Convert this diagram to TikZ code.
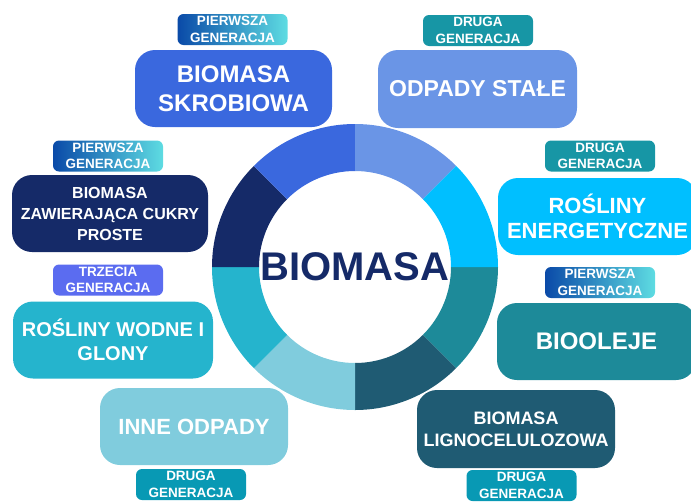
\documentclass[tikz,border=0pt]{standalone}
\usepackage{fontspec}
\setmainfont{Liberation Sans}
\usetikzlibrary{calc}

\definecolor{skrob}{HTML}{3A68DE}
\definecolor{odpady}{HTML}{6A95E6}
\definecolor{energ}{HTML}{00BFFF}
\definecolor{bioolej}{HTML}{1D8A99}
\definecolor{ligno}{HTML}{1F5B73}
\definecolor{inne}{HTML}{80CCDD}
\definecolor{wodne}{HTML}{25B4CD}
\definecolor{cukry}{HTML}{152A68}
\definecolor{genleft}{HTML}{0A4AA8}
\definecolor{genright}{HTML}{5EDCE2}
\definecolor{drugatop}{HTML}{1796A5}
\definecolor{drugabot}{HTML}{0899B4}
\definecolor{trzecia}{HTML}{5B6CF0}

\tikzset{
  catbox/.style={rounded corners=20pt, minimum width=197pt, minimum height=77pt,
    inner sep=0pt, align=center, text=white},
  gentag/.style={rounded corners=6pt, minimum width=110pt, minimum height=31pt,
    inner sep=0pt, align=center, text=white, font=\fontsize{13.5}{16.5}\selectfont\bfseries},
  firstgen/.style={gentag, left color=genleft, right color=genright},
}

\begin{document}
\begin{tikzpicture}[x=1pt,y=-1pt]
\useasboundingbox (0,0) rectangle (691,501);
\coordinate (c) at (355,267);
% ring of eight segments
\foreach \a/\col in {0/bioolej,45/ligno,90/inne,135/wodne,180/cukry,225/skrob,270/odpady,315/energ}{
  \fill[\col] ($(c)+(\a:143)$) arc[start angle=\a, end angle=\a+45, radius=143]
    -- ($(c)+(\a+45:96)$) arc[start angle=\a+45, end angle=\a, radius=96] -- cycle;
}
\node[text=cukry, font=\fontsize{40}{40}\selectfont\bfseries] (biomasa) at (c) {BIOMASA};

% boxes
\node[catbox, fill=skrob, font=\fontsize{24}{29}\selectfont\bfseries] (skrobiowa) at (233.5,88.5) {BIOMASA\\SKROBIOWA};
\node[catbox, fill=odpady, minimum width=199pt, minimum height=78pt, font=\fontsize{23}{28}\selectfont\bfseries] (stale) at (477.5,89) {ODPADY STAŁE};
\node[catbox, fill=cukry, minimum width=196pt, font=\fontsize{16}{21}\selectfont\bfseries] (cukrow) at (110,213.5) {BIOMASA\\ZAWIERAJĄCA CUKRY\\PROSTE};
\node[catbox, fill=energ, minimum width=199pt, font=\fontsize{22}{25}\selectfont\bfseries] (energet) at (597.5,216.5) {ROŚLINY\\ENERGETYCZNE};
\node[catbox, fill=wodne, minimum width=200pt, font=\fontsize{20}{24}\selectfont\bfseries] (wodne) at (113,340) {ROŚLINY WODNE I\\GLONY};
\node[catbox, fill=bioolej, minimum width=199pt, font=\fontsize{24}{29}\selectfont\bfseries] (oleje) at (596.5,341.5) {BIOOLEJE};
\node[catbox, fill=inne, minimum width=188pt, font=\fontsize{22}{26}\selectfont\bfseries] (inneodp) at (194,426.5) {INNE ODPADY};
\node[catbox, fill=ligno, minimum width=198pt, minimum height=78pt, font=\fontsize{18}{22}\selectfont\bfseries] (lignoc) at (516,429) {BIOMASA\\LIGNOCELULOZOWA};

% generation tags
\node[firstgen] (g1) at (232.5,29.5) {PIERWSZA\\GENERACJA};
\node[gentag, fill=drugatop] (g2) at (478,30.5) {DRUGA\\GENERACJA};
\node[firstgen] (g3) at (108,156) {PIERWSZA\\GENERACJA};
\node[gentag, fill=drugatop] (g4) at (600,156) {DRUGA\\GENERACJA};
\node[gentag, fill=trzecia] (g5) at (108,280) {TRZECIA\\GENERACJA};
\node[firstgen] (g6) at (600,282.5) {PIERWSZA\\GENERACJA};
\node[gentag, fill=drugabot] (g7) at (191,484.5) {DRUGA\\GENERACJA};
\node[gentag, fill=drugabot] (g8) at (521.5,485.5) {DRUGA\\GENERACJA};
\end{tikzpicture}
\end{document}
